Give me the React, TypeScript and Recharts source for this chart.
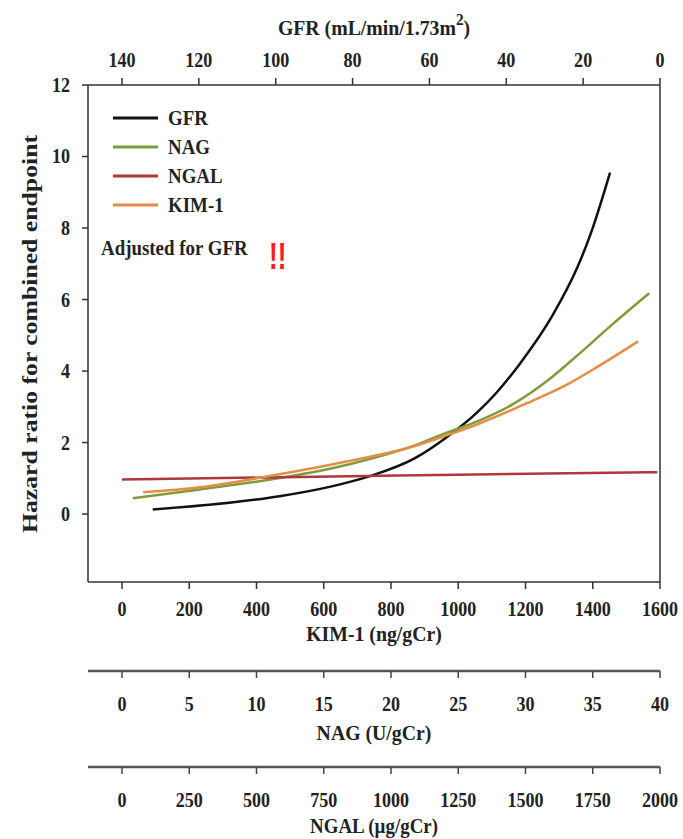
import { LineChart, Line, XAxis, YAxis, ReferenceLine, Legend } from "recharts";

// Hazard ratio curves, one per marker, each on its own x scale
const gfrLevels = [132, 111, 99, 86, 75.5, 64, 55.5, 47.5, 42.5, 36.5, 28, 21.5, 18, 13];
const gfrHazard = [0.13, 0.33, 0.5, 0.76, 1.06, 1.55, 2.15, 2.85, 3.4, 4.2, 5.55, 6.9, 7.85, 9.55];

const nagLevels = [0.8, 5.8, 10.8, 17, 21.6, 24.1, 26.6, 29.1, 31.6, 34.05, 36.5, 39.2];
const nagHazard = [0.44, 0.69, 0.95, 1.4, 1.9, 2.27, 2.62, 3.08, 3.72, 4.5, 5.32, 6.18];

const ngalLevels = [0, 600, 1250, 1990];
const ngalHazard = [0.97, 1.03, 1.1, 1.17];

const kimLevels = [63, 232, 430, 668, 866, 956, 1065, 1114, 1204, 1323, 1402, 1535];
const kimHazard = [0.61, 0.75, 1.05, 1.47, 1.89, 2.17, 2.54, 2.73, 3.1, 3.62, 4.05, 4.83];

const gfrTicks = [140, 120, 100, 80, 60, 40, 20, 0];
const kimTicks = [0, 200, 400, 600, 800, 1000, 1200, 1400, 1600];
const nagTicks = [0, 5, 10, 15, 20, 25, 30, 35, 40];
const ngalTicks = [0, 250, 500, 750, 1000, 1250, 1500, 1750, 2000];
const hazardTicks = [0, 2, 4, 6, 8, 10, 12];

const toPoints = (xs: number[], ys: number[]) => xs.map((x, i) => ({ x, y: ys[i] }));

const FONT = '"Liberation Serif", "Times New Roman", serif';
const INK = "#222";

const series = [
  { name: "GFR", axis: "gfr", color: "#111111", data: toPoints(gfrLevels, gfrHazard) },
  { name: "NAG", axis: "nag", color: "#7f9c3c", data: toPoints(nagLevels, nagHazard) },
  { name: "NGAL", axis: "ngal", color: "#b0373a", data: toPoints(ngalLevels, ngalHazard) },
  { name: "KIM-1", axis: "kim", color: "#e58d45", data: toPoints(kimLevels, kimHazard) },
];

// narrow, tall serif text like the printed figure
const Narrow = ({ x, y, size, sx, anchor = "middle", children }: any) => (
  <text
    transform={`translate(${x} ${y}) scale(${sx} 1)`}
    textAnchor={anchor}
    dominantBaseline="central"
    fontFamily={FONT}
    fontWeight="bold"
    fontSize={size}
    fill={INK}
  >
    {children}
  </text>
);

const tickAt = (dy: number) => (props: any) => (
  <Narrow x={props.x} y={props.y + dy} size={21} sx={0.86}>
    {props.payload.value}
  </Narrow>
);

const YTick = (props: any) => (
  <Narrow x={props.x} y={props.y} size={21} sx={0.86} anchor="end">
    {props.payload.value}
  </Narrow>
);

const axisTitle = (text: string, dy: number, size = 22) => (props: any) => {
  const vb = props.viewBox;
  return (
    <Narrow x={vb.x + vb.width / 2} y={vb.y + dy} size={size} sx={0.9}>
      {text}
    </Narrow>
  );
};

const gfrTitle = (props: any) => {
  const vb = props.viewBox;
  return (
    <text
      transform={`translate(${vb.x + vb.width / 2} 35) scale(0.9 1)`}
      textAnchor="middle"
      fontFamily={FONT}
      fontWeight="bold"
      fontSize={22}
      fill={INK}
    >
      GFR (mL/min/1.73m
      <tspan fontSize={17} dy={-10}>2</tspan>
      <tspan dy={10}>)</tspan>
    </text>
  );
};

const hazardTitle = () => (
  <text
    x={37}
    y={334}
    transform="rotate(-90 37 334)"
    textAnchor="middle"
    fontFamily={FONT}
    fontWeight="bold"
    fontSize={22}
    textLength={398}
    lengthAdjust="spacingAndGlyphs"
    fill={INK}
  >
    Hazard ratio for combined endpoint
  </text>
);

const LegendBox = () => (
  <svg width={230} height={195} style={{ display: "block", overflow: "visible" }}>
    {series.map((s, i) => (
      <g key={s.name}>
        <line x1={18} x2={63} y1={18 + i * 29} y2={18 + i * 29} stroke={s.color} strokeWidth={3} />
        <Narrow x={73} y={18 + i * 29} size={21} sx={0.9} anchor="start">
          {s.name}
        </Narrow>
      </g>
    ))}
    <Narrow x={6} y={148} size={21} sx={0.9} anchor="start">
      Adjusted for GFR
    </Narrow>
    <text
      transform="translate(174 169) scale(1 1.4)"
      fontFamily='"Liberation Sans", Arial, sans-serif'
      fontWeight="bold"
      fontSize={26}
      fill="#ff1a1a"
    >
      !!
    </text>
  </svg>
);

export default function App() {
  return (
    <div style={{ position: "absolute", left: 0, top: 0, width: 683, height: 839, background: "#fff" }}>
      <LineChart width={683} height={839} margin={{ top: 0, right: 23, bottom: 0, left: 0 }}>
        <XAxis
          xAxisId="gfr"
          type="number"
          orientation="top"
          reversed
          domain={[0, 148.85]}
          allowDataOverflow
          ticks={gfrTicks}
          dataKey="x"
          height={85}
          tickSize={7}
          tickMargin={0}
          tick={tickAt(-18)}
          tickLine={{ stroke: "#333", strokeWidth: 1.5 }}
          axisLine={{ stroke: "#333", strokeWidth: 1.5 }}
          label={gfrTitle}
        />
        <XAxis
          xAxisId="kim"
          type="number"
          domain={[-101.1, 1600]}
          allowDataOverflow
          ticks={kimTicks}
          dataKey="x"
          height={89}
          tickSize={7}
          tickMargin={0}
          tick={tickAt(20)}
          tickLine={{ stroke: "#333", strokeWidth: 1.5 }}
          axisLine={{ stroke: "#333", strokeWidth: 1.5 }}
          label={axisTitle("KIM-1 (ng/gCr)", 52)}
        />
        <XAxis
          xAxisId="nag"
          type="number"
          domain={[-2.528, 40]}
          allowDataOverflow
          ticks={nagTicks}
          dataKey="x"
          height={96}
          tickSize={7}
          tickMargin={0}
          tick={tickAt(26)}
          tickLine={{ stroke: "#444", strokeWidth: 1.5 }}
          axisLine={{ stroke: "#555", strokeWidth: 2.5 }}
          label={axisTitle("NAG (U/gCr)", 62)}
        />
        <XAxis
          xAxisId="ngal"
          type="number"
          domain={[-126.4, 2000]}
          allowDataOverflow
          ticks={ngalTicks}
          dataKey="x"
          height={72}
          tickSize={7}
          tickMargin={0}
          tick={tickAt(26)}
          tickLine={{ stroke: "#444", strokeWidth: 1.5 }}
          axisLine={{ stroke: "#555", strokeWidth: 2.5 }}
          label={axisTitle("NGAL (\u00b5g/gCr)", 59, 21)}
        />
        <YAxis
          type="number"
          domain={[-1.9, 12]}
          allowDataOverflow
          ticks={hazardTicks}
          width={88}
          tickSize={6}
          tickMargin={12}
          tick={YTick}
          tickLine={{ stroke: "#333", strokeWidth: 1.5 }}
          axisLine={{ stroke: "#333", strokeWidth: 1.5 }}
          label={hazardTitle}
        />
        <ReferenceLine xAxisId="kim" x={1600} stroke="#333" strokeWidth={1.5} />
        <Legend
          layout="vertical"
          align="center"
          verticalAlign="middle"
          wrapperStyle={{ left: 95, top: 100, width: 230, height: 195 }}
          content={LegendBox}
        />
        {series.map((s) => (
          <Line
            key={s.name}
            name={s.name}
            xAxisId={s.axis}
            data={s.data}
            dataKey="y"
            type="monotone"
            stroke={s.color}
            strokeWidth={2.5}
            dot={false}
            isAnimationActive={false}
          />
        ))}
      </LineChart>
    </div>
  );
}
